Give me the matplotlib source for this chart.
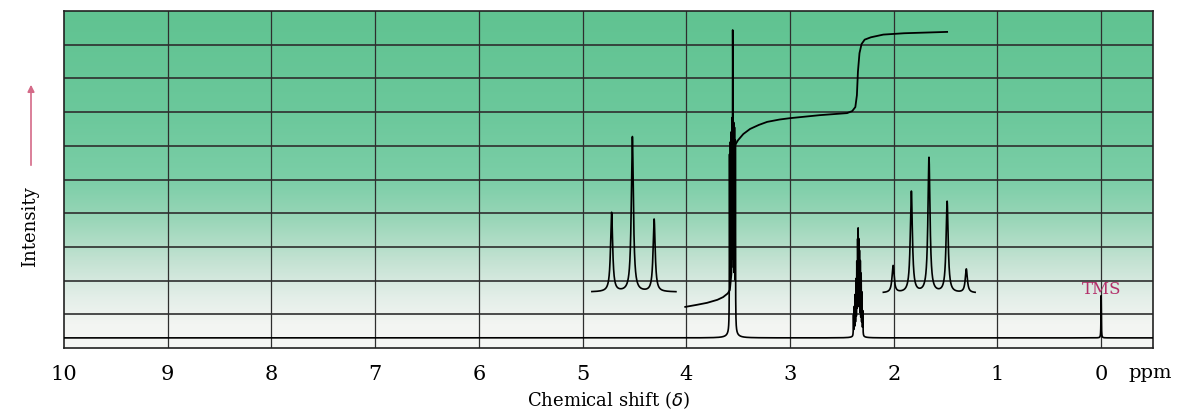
import numpy as np
import matplotlib
matplotlib.use("Agg")
import matplotlib.pyplot as plt
from matplotlib.colors import LinearSegmentedColormap
from matplotlib.patches import FancyArrowPatch

# x axis ticks (ppm)
ppm_ticks = [10, 9, 8, 7, 6, 5, 4, 3, 2, 1, 0]

# main spectrum: line positions (ppm), heights above baseline and half-widths
baseline = 0.3
main_shift = [3.583, 3.575, 3.567, 3.559, 3.553, 3.551, 3.543, 3.535, 3.527, 3.555,
              2.388, 2.380, 2.372, 2.364, 2.356, 2.348, 2.343, 2.338, 2.330, 2.322,
              2.314, 2.306, 2.298, 2.343,
              0.0]
main_height = [5.0, 5.1, 5.2, 5.2, 6.0, 5.3, 5.4, 5.5, 5.4, 0.5,
               0.6, 0.8, 1.1, 1.5, 1.9, 2.3, 2.5, 2.3, 2.2, 2.0,
               1.7, 1.2, 0.7, 0.3,
               1.25]
main_width = [0.0015] * 9 + [0.02] + [0.0015] * 13 + [0.015] + [0.002]

# expanded inset 1 (triplet near 4.5 ppm)
ins1_shift = [4.72, 4.52, 4.31]
ins1_height = [2.35, 4.6, 2.15]
ins1_range = (4.91, 4.10)
ins1_base = 1.66

# expanded inset 2 (quintet near 1.7 ppm)
ins2_shift = [2.006, 1.83, 1.66, 1.485, 1.30]
ins2_height = [0.8, 3.0, 4.0, 2.7, 0.7]
ins2_range = (2.10, 1.215)
ins2_base = 1.63

# integral trace (ppm, level)
integ_x = [4.01, 3.90, 3.80, 3.70, 3.645, 3.60, 3.58, 3.565, 3.555, 3.55, 3.53,
           3.50, 3.45, 3.385, 3.30, 3.22, 3.10, 3.00, 2.71, 2.45, 2.40, 2.37,
           2.355, 2.345, 2.33, 2.31, 2.28, 2.22, 2.10, 1.90, 1.485]
integ_y = [1.22, 1.28, 1.34, 1.43, 1.51, 1.62, 1.72, 2.2, 5.0, 5.88, 6.02,
           6.17, 6.35, 6.50, 6.62, 6.71, 6.78, 6.82, 6.91, 6.97, 7.03, 7.15,
           7.5, 8.2, 8.75, 9.02, 9.15, 9.22, 9.30, 9.34, 9.38]


def lorentz(x, pos, hgt, wid):
    y = np.zeros_like(x)
    for p, h, w in zip(pos, hgt, wid):
        y += h * w**2 / ((x - p)**2 + w**2)
    return y


fig = plt.figure(figsize=(11.81, 4.12), dpi=100)
ax = fig.add_axes([64/1181, 64/412, 1089/1181, 337/412])
ax.set_xlim(10, -0.5)
ax.set_ylim(0, 10)

# green paper gradient
cmap = LinearSegmentedColormap.from_list(
    "paper",
    [(0.0, "#f6f7f5"), (0.07, "#f3f5f2"), (0.15, "#e3eee8"), (0.25, "#c6e3d4"),
     (0.38, "#9ad6b8"), (0.5, "#7bcea7"), (0.7, "#6bc89b"), (1.0, "#60c391")])
grad = np.linspace(0, 1, 256).reshape(-1, 1)
ax.imshow(grad, extent=[10, -0.5, 0, 10], origin="lower", aspect="auto",
          cmap=cmap, zorder=0)

# grid
for yv in range(1, 10):
    ax.axhline(yv, color="#2e2e2e", lw=1.2, zorder=1)
for xv in range(0, 10):
    ax.axvline(xv, color="#2e2e2e", lw=0.9, zorder=1)

# spectrum
x = np.linspace(10, -0.5, 120000)
ax.plot(x, baseline + lorentz(x, main_shift, main_height, main_width),
        color="black", lw=1.2, zorder=3)

# insets
for rng, pos, hgt, base in [(ins1_range, ins1_shift, ins1_height, ins1_base),
                            (ins2_range, ins2_shift, ins2_height, ins2_base)]:
    xi = np.linspace(rng[0], rng[1], 4000)
    ax.plot(xi, base + lorentz(xi, pos, hgt, [0.012] * len(pos)),
            color="black", lw=1.2, zorder=3)

# integral
ax.plot(integ_x, integ_y, color="black", lw=1.3, zorder=3)

ax.text(0.0, 1.75, "TMS", color="#b3306a", fontsize=12, family="DejaVu Serif",
        ha="center", va="center", zorder=4)

ax.set_xticks(ppm_ticks)
ax.set_xticklabels([str(t) for t in ppm_ticks], family="DejaVu Serif", fontsize=15)
ax.tick_params(axis="x", length=0, pad=12)
ax.set_yticks([])
for s in ax.spines.values():
    s.set_color("#222222")
    s.set_linewidth(1.2)

ax.set_xlabel("Chemical shift ($\\delta$)", family="DejaVu Serif", fontsize=13, labelpad=4)
fig.text(1150/1181, 1 - 373/412, "ppm", family="DejaVu Serif", fontsize=14,
         ha="center", va="center")
fig.text(30/1181, 1 - 227/412, "Intensity", family="DejaVu Serif", fontsize=13,
         rotation=90, ha="center", va="center")
fig.patches.append(FancyArrowPatch((31/1181, 1 - 168/412), (31/1181, 1 - 82/412),
                                   transform=fig.transFigure, arrowstyle="-|>",
                                   mutation_scale=10, color="#d46a88", lw=1.2))

fig.savefig("out.png", dpi=100)
